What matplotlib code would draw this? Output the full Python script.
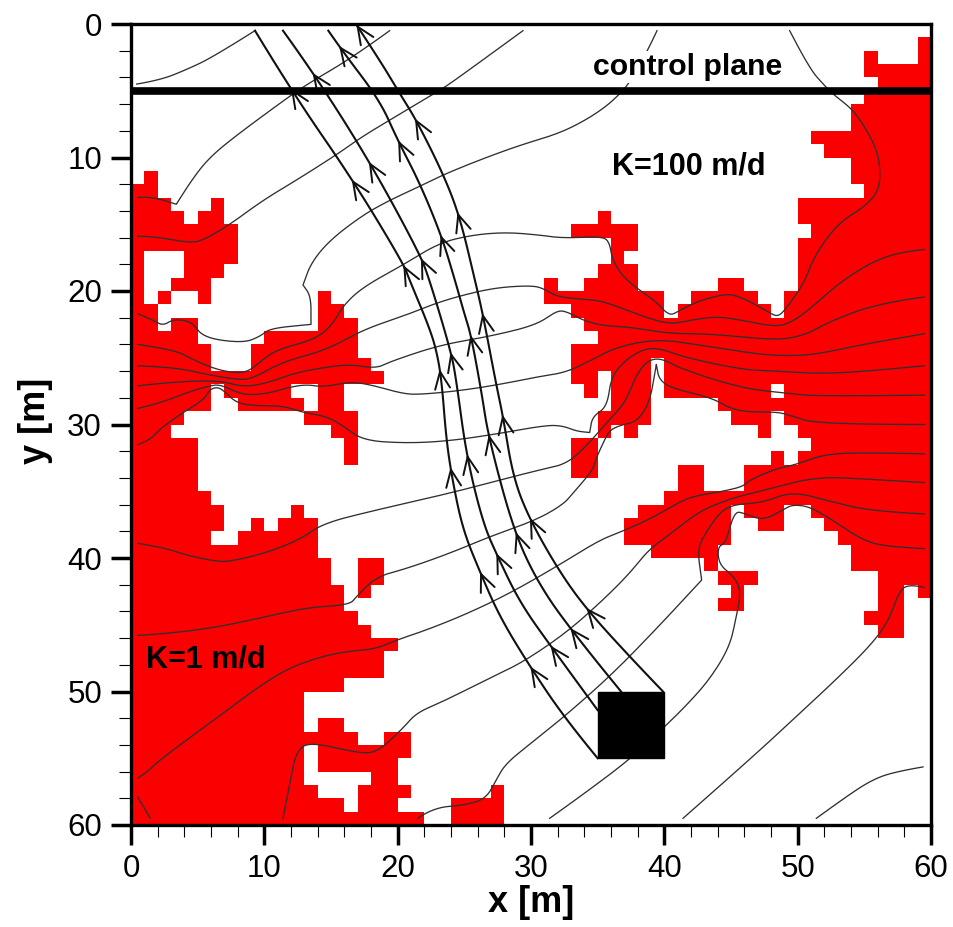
import numpy as np
import matplotlib
matplotlib.use("Agg")
import matplotlib.pyplot as plt
from matplotlib.colors import ListedColormap
from matplotlib.patches import Rectangle

plt.rcParams['font.family'] = ['Liberation Sans', 'DejaVu Sans']

# low-K (K=1 m/d) cells: row y -> runs of x
red_runs = {
 1: [(59,60)], 2: [(55,56),(59,60)], 3: [(55,60)], 4: [(56,60)], 5: [(55,60)],
 6: [(54,60)], 7: [(54,60)], 8: [(51,60)], 9: [(52,60)], 10: [(54,60)],
 11: [(1,2),(54,60)], 12: [(0,2),(55,60)], 13: [(0,3),(6,7),(50,60)],
 14: [(0,4),(5,7),(35,36),(50,60)], 15: [(0,8),(33,38),(51,60)],
 16: [(0,8),(36,38),(50,60)], 17: [(0,1),(4,8),(36,37),(50,60)],
 18: [(0,1),(4,7),(35,38),(50,60)],
 19: [(0,1),(3,6),(31,32),(34,38),(44,46),(50,60)],
 20: [(0,1),(2,3),(5,6),(14,15),(31,40),(42,47),(49,60)],
 21: [(0,2),(14,16),(33,40),(41,48),(49,60)],
 22: [(0,2),(3,5),(14,17),(34,60)],
 23: [(0,5),(10,17),(35,60)],
 24: [(0,6),(9,17),(33,60)],
 25: [(0,6),(9,18),(33,39),(40,60)],
 26: [(0,19),(33,35),(36,39),(40,60)],
 27: [(0,6),(7,12),(14,16),(34,35),(36,39),(40,48),(49,60)],
 28: [(0,6),(8,13),(14,16),(36,39),(44,60)],
 29: [(0,4),(13,17),(35,39),(45,48),(49,60)],
 30: [(0,3),(15,17),(35,36),(37,38),(47,48),(50,60)],
 31: [(0,5),(16,17),(33,35),(51,60)],
 32: [(0,5),(16,17),(33,35),(48,49),(50,60)],
 33: [(0,5),(33,35),(41,43),(46,60)],
 34: [(0,5),(41,43),(46,60)],
 35: [(0,6),(40,60)],
 36: [(0,7),(12,13),(38,45),(46,49),(51,60)],
 37: [(0,7),(9,10),(11,14),(37,45),(47,49),(52,60)],
 38: [(0,6),(8,14),(37,45),(53,60)],
 39: [(0,14),(39,44),(54,60)],
 40: [(0,15),(17,19),(43,44),(54,60)],
 41: [(0,15),(17,19),(44,47),(56,60)],
 42: [(0,16),(17,18),(45,46),(56,58),(59,60)],
 43: [(0,16),(44,46),(56,58)],
 44: [(0,17),(55,58)], 45: [(0,18),(56,58)], 46: [(0,20)],
 47: [(0,19)], 48: [(0,19)], 49: [(0,16)], 50: [(0,13)], 51: [(0,13)],
 52: [(0,13),(14,16)], 53: [(0,17),(19,21)], 54: [(0,13),(14,21)],
 55: [(0,13),(14,20)], 56: [(0,13),(18,20)], 57: [(0,14),(17,21),(27,28)],
 58: [(0,16),(17,20),(24,28)], 59: [(0,22),(24,28)],
}

# head contours (a repeated vertex marks a sharp corner)
c1 = [(0.43,4.5),(2.2,4.2),(4.2,3.4),(6.2,2.45),(9.3,0.5)]
c2 = [(0.5,13.0),(1.4,12.9),(3.4,13.5),(3.4,13.5),(4.55,11.7),(5.7,10.2),(7.42,8.7),(11.9,5.4),(13.4,4.4),(16.7,2.45),(19.4,0.5)]
c3 = [(0.5,15.9),(1.7,15.9),(4.4,16.4),(5.4,16.2),(7.3,15.1),(9.9,13.2),(12.4,11.7),(15.4,9.8),(17.4,8.4),(19.4,7.2),(22.5,5.35),(23.6,4.7),(26.1,2.9),(29.4,0.5)]
c4 = [(0.5,21.7),(1.7,22.2),(2.4,22.6),(3.2,22.1),(4.6,22.3),(5.4,23.5),(8.4,23.9),(9.7,23.4),(10.4,22.8),(13.5,22.5),(13.5,22.5),(13.5,20.4),(12.9,19.55),(12.9,19.55),(13.5,17.9),(14.9,16.2),(17.4,14.3),(19.4,13.2),(21.15,12.4),(23.4,11.3),(26.1,10.2),(29.1,9.1),(32.1,8.2),(34.1,7.2),(35.6,6.2),(36.6,5.3),(37.4,4.4),(38.9,1.7),(39.45,0.5)]
c5 = [(0.5,24.0),(3.2,24.4),(4.4,25.0),(5.9,25.7),(7.4,26.1),(8.7,26.1),(9.7,25.3),(10.9,24.4),(13.9,23.6),(15.2,22.4),(15.9,21.1),(17.4,19.7),(20.4,18.05),(23.1,16.4),(25.6,15.8),(28.1,15.6),(30.6,15.8),(32.4,16.05),(35.4,15.9),(35.9,16.4),(36.1,17.7),(37.1,19.2),(39.4,20.8),(40.0,21.5),(40.5,21.8),(41.0,21.55),(42.4,20.8),(44.6,20.2),(45.6,20.4),(46.9,21.05),(48,21.7),(48.5,21.9),(49,21.5),(50.5,19.4),(51.1,17.7),(52.4,15.7),(53.6,14.55),(54.85,13.8),(56.1,12.55),(56.2,10.7),(55.85,9.2),(54.85,7.4),(54,6.3),(52.7,5.3),(52,4.6),(50.85,3.3),(49.4,0.5)]
c6 = [(0.5,25.6),(3.2,25.7),(5.9,26.3),(8.4,26.7),(9.4,26.4),(11.4,25.3),(14.7,24.4),(17.4,22.9),(20.65,21.8),(23.15,20.8),(25.9,20.05),(27.9,19.7),(30.1,19.6),(30.9,19.8),(31.9,20.4),(33.5,20.6),(35.1,20.7),(36.6,21.2),(38.4,21.9),(40.4,22.5),(41.9,22.2),(43.9,21.9),(45.9,22.2),(48.4,22.7),(49.6,22.3),(50.85,21.4),(53.1,19.4),(55.6,17.8),(57.85,17.05),(59.5,16.9)]
c7 = [(0.5,27.1),(3.2,26.8),(6.7,26.7),(8.4,27.2),(10.2,26.9),(12.4,26.1),(14.7,25.7),(16.4,25.5),(18.4,25.8),(19.4,25.3),(23.15,24.05),(26.9,23.4),(30.4,22.55),(31.9,21.5),(32.6,21.5),(33.9,22.2),(35.4,22.6),(37.4,22.7),(40.4,23.2),(43.4,23.2),(48.4,23.7),(50.6,23.3),(52.35,22.3),(56.1,20.9),(59.5,20.45)]
c8 = [(0.5,28.8),(2.2,28.4),(4.2,27.6),(5.9,27.1),(6.7,27),(8.4,27.8),(10.2,27.7),(11.9,27.2),(13.2,27),(14.4,27.2),(16.4,26.8),(17.9,27),(20.4,27.7),(21.65,27.75),(24.4,27.5),(27.4,27.05),(30.65,26.4),(32.6,26.1),(34.5,25.2),(36.4,24.2),(39.4,23.6),(42.4,24.0),(47.4,24.8),(49.9,24.85),(51.6,24.7),(55.4,23.9),(59.5,23.2)]
c9 = [(0.5,31.5),(1.4,31.2),(2.2,30.3),(3.9,29.1),(5.4,28.2),(5.9,27.4),(6.4,27.2),(6.9,27.4),(7.9,28.4),(9.4,28.6),(11.4,28.6),(12.9,29.1),(14.7,29.4),(15.9,30.1),(17.4,31.2),(20.65,31.4),(23.65,31.25),(26.9,30.8),(31.1,30.05),(32.4,30.1),(33.4,30.5),(34.4,30.6),(34.4,30.6),(34.6,29.4),(35.7,28.7),(36,26.5),(36.9,25.35),(38.1,24.5),(39.4,24.2),(41.6,25),(45.9,25.9),(48.4,26),(51.6,26.2),(55.4,26),(59.5,25.6)]
c10 = [(0.5,38.9),(2.4,39.2),(4.2,39.8),(6.6,40.3),(7.7,40.2),(10.2,39.6),(12.7,38.6),(14.4,37.4),(18.4,36.4),(23.9,35.15),(28.1,34.05),(30.65,33.4),(32.5,33),(33.8,32.0),(36.1,29.4),(37.1,28.3),(38.1,25.8),(39.4,24.85),(41.4,25.9),(45.9,27.3),(49.1,27.65),(51.6,27.9),(59.5,27.8)]
c11 = [(0.5,45.8),(2.9,45.65),(6.7,45.15),(11.2,44.15),(13.4,43.7),(16.4,43.5),(16.9,42.9),(18.4,41.4),(20.65,40.8),(23.9,39.65),(26.9,38.4),(30.4,37.15),(32.4,36.0),(33.15,35.15),(34.65,33.4),(34.9,32.5),(35.4,31.4),(35.9,30.4),(36.9,30.0),(37.9,29.8),(38.9,28.4),(39.4,25.5),(39.4,25.5),(39.6,26.65),(40.6,27.3),(43.6,28.0),(45.4,29.05),(48.4,29.05),(49.4,29.3),(51.5,30.0),(59.5,30)]
c12 = [(0.5,56.5),(1.4,55.9),(1.7,55.5),(4.2,53.6),(6.7,51.8),(9.2,49.9),(11.7,48.3),(14.2,47.4),(16.2,47),(18.4,46.8),(19.9,46.15),(22.15,45.4),(25.15,44.2),(28.4,42.65),(31.9,40.65),(35.15,38.65),(36.63,38.1),(39.1,37),(41.4,35.65),(42.6,35.3),(44.4,35),(45.9,34.65),(46.4,34.15),(48.4,33.3),(49.9,33.0),(52.1,32.2),(55.4,32.1),(59.5,32.2)]
c13 = [(11.4,59.5),(12,56.4),(12.4,54.5),(13.4,53.75),(17.4,54.7),(18.65,54.4),(20.4,52.75),(21.4,51.6),(23.4,50.75),(27.1,48.9),(29.4,47.8),(32.65,45.6),(35.4,43.15),(37.4,41.15),(38.8,39.4),(40.4,38.25),(42.6,36.5),(45.1,35.5),(47.6,34.9),(51.4,33.9),(55.4,34.1),(59.5,34.35)]
c14 = [(21.5,59.5),(22.65,58.7),(25.15,58.5),(26.65,58),(27.4,56.6),(28.1,55.4),(30.15,53.75),(32.65,51.75),(36.15,48.65),(39.6,45.1),(42.8,41.65),(42.8,41.65),(42.5,39.5),(42.9,38.4),(44.1,36.65),(45.1,36.0),(47.4,35.85),(49.6,35.0),(52.6,35.8),(55.6,36.5),(59.5,36.7)]
c15 = [(31.4,59.5),(33.65,57.9),(37.4,55.1),(39.9,52.75),(41.6,51.1),(43.4,49.1),(44.9,46.65),(45.4,44.4),(45.75,42.5),(45.25,41.4),(44.1,40.5),(44,39.15),(44.6,38.9),(45.25,36.5),(46,36.65),(47.4,37.2),(48.9,36.4),(49.6,36),(50.9,36.15),(52.6,37.15),(54.85,38.65),(56.6,39.15),(59.5,39.3)]
c16 = [(41.4,59.5),(46.4,55.1),(49.6,52.15),(53.1,48.9),(55.6,46.4),(56.85,44.65),(57.6,42.5),(58.35,41.95),(59.5,42.2)]
c17 = [(51.4,59.5),(53.6,57.9),(55.6,56.6),(57.35,56),(59.4,55.65)]
c18 = [(0.5,57.9),(1.45,59.5)]
contours = [c1,c2,c3,c4,c5,c6,c7,c8,c9,c10,c11,c12,c13,c14,c15,c16,c17,c18]

# streamlines from the source to the control plane and beyond
s1 = [(35,55),(32.6,52.1),(29.9,48.1),(27.65,44.4),(26.15,41),(24.9,37.9),(24.15,34.4),(23.65,31.2),(23.3,26.7),(22.9,24.4),(22.3,22.55),(20.9,19.2),(20.4,17.9),(16.65,11.7),(12.15,5.2),(9.3,0.5)]
s2 = [(35,51.4),(31.4,46.5),(29.15,43.3),(27.5,39.9),(26.4,37.4),(25.15,32.3),(24.4,26.7),(24,24.55),(22.4,19.2),(21.65,17.2),(17.9,10.3),(13.65,3.6),(11.4,0.5)]
s3 = [(36.75,50),(32.9,45.3),(30.4,41.65),(28.65,37.8),(26.8,30.9),(26.3,27.65),(25.5,23.3),(25,21.7),(24.3,19.2),(23.3,15.9),(21.65,11.9),(20,8.7),(18.65,5.7),(15.8,1.95),(14.8,0.5)]
s4 = [(39.9,50),(37.4,47.4),(34,43.65),(31.9,40.65),(29.8,36.9),(28.65,33.9),(27.9,29.4),(27.4,27.05),(26.4,21.8),(25.8,19.2),(24.65,14.4),(23.4,11.2),(21.4,7.2),(20.15,5.2),(18.65,2.7),(16.9,0.05)]
streams = [s1,s2,s3,s4]

# arrow tips along each streamline
a1 = [(29.9,48.1),(26.25,41),(23.95,33.4),(23.1,25.8),(20.5,18.2),(16.5,11.4),(12.15,5.25)]
a2 = [(31.4,46.5),(27.55,39.8),(25.15,32.3),(24,24.55),(21.8,17.3),(18,10.3),(13.65,3.6)]
a3 = [(32.9,45.15),(28.9,38.15),(26.8,30.8),(25.45,23.2),(23.3,15.8),(20.0,8.6),(15.8,1.8)]
a4 = [(34,43.65),(29.9,36.8),(27.9,29.4),(26.45,21.7),(24.6,14.2),(21.35,7.1),(16.9,0.07)]
arrows = [a1,a2,a3,a4]

source_x, source_y, source_size = 35, 50, 5
control_plane_y = 5
x_major = [0,10,20,30,40,50,60]
y_major = [0,10,20,30,40,50,60]
minor = list(range(0,61,2))


def smooth(pts, n=8):
    """Draw a traced line with its vertices as quadratic Bezier control points."""
    p = np.asarray(pts, float)
    if len(p) < 3:
        return p
    t = np.linspace(0, 1, n, endpoint=False)[:, None]
    out = [p[0][None]]
    start = p[0]
    for i in range(1, len(p)-1):
        end = (p[i]+p[i+1])/2 if i < len(p)-2 else p[-1]
        out.append((1-t)**2*start + 2*t*(1-t)*p[i] + t**2*end)
        start = end
    out.append(p[-1][None])
    return np.vstack(out)


grid = np.zeros((60,60))
for row, runs in red_runs.items():
    for a, b in runs:
        grid[row, a:b] = 1

W, H = 954, 927
fig = plt.figure(figsize=(W/100, H/100), dpi=100)
ax = fig.add_axes([131/W, 1-825/H, 800/W, 801/H])
ax.pcolormesh(np.arange(61), np.arange(61), grid, cmap=ListedColormap(['white','#FA0000']),
              vmin=0, vmax=1, zorder=1)
for c in contours:
    p = smooth(c)
    ax.plot(p[:,0], p[:,1], color='#303030', lw=0.95, zorder=2, solid_joinstyle='round')
for s, tips in zip(streams, arrows):
    p = smooth(s)
    ax.plot(p[:,0], p[:,1], color='#111111', lw=1.5, zorder=3, solid_joinstyle='round')
    for tip in tips:
        i = int(np.argmin(np.hypot(*(p - np.array(tip)).T)))
        i1 = min(i+3, len(p)-1)
        i0 = max(i-3, 0)
        v = p[i0]-p[i1]
        v = v/np.hypot(*v)
        ax.annotate('', xy=tuple(p[i]), xytext=tuple(p[i]+v*0.5),
                    arrowprops=dict(arrowstyle='->,head_length=0.62,head_width=0.27',
                                    color='#111111', lw=1.4, mutation_scale=20,
                                    shrinkA=0, shrinkB=0), zorder=3)
ax.add_patch(Rectangle((source_x, source_y), source_size, source_size, color='black', zorder=4))
ax.axhline(control_plane_y, color='black', lw=5.5, zorder=4)

ax.text(41.75, 3.2, 'control plane', fontsize=21.8, fontweight='bold', ha='center', va='center',
        bbox=dict(facecolor='white', edgecolor='none', pad=1.5), zorder=5)
ax.text(41.8, 10.65, 'K=100 m/d', fontsize=22, fontweight='bold', ha='center', va='center', zorder=5)
ax.text(5.6, 47.6, 'K=1 m/d', fontsize=22, fontweight='bold', ha='center', va='center', zorder=5)

ax.set_xlim(0,60); ax.set_ylim(60,0)
ax.set_xticks(x_major); ax.set_yticks(y_major)
ax.set_xticks(minor, minor=True); ax.set_yticks(minor, minor=True)
ax.tick_params(which='major', length=14.4, width=2.5, labelsize=22.5, pad=6.5)
ax.tick_params(which='minor', length=8.4, width=0.8)
for sp in ax.spines.values():
    sp.set_linewidth(2.4)
    sp.set_zorder(6)
ax.set_xlabel('x [m]', fontsize=26, fontweight='bold', va='center')
ax.set_ylabel('y [m]', fontsize=26, fontweight='bold', va='center')
ax.xaxis.set_label_coords(0.5, -0.097)
ax.yaxis.set_label_coords(-0.12, 0.505)
fig.savefig('out.png', dpi=100)
